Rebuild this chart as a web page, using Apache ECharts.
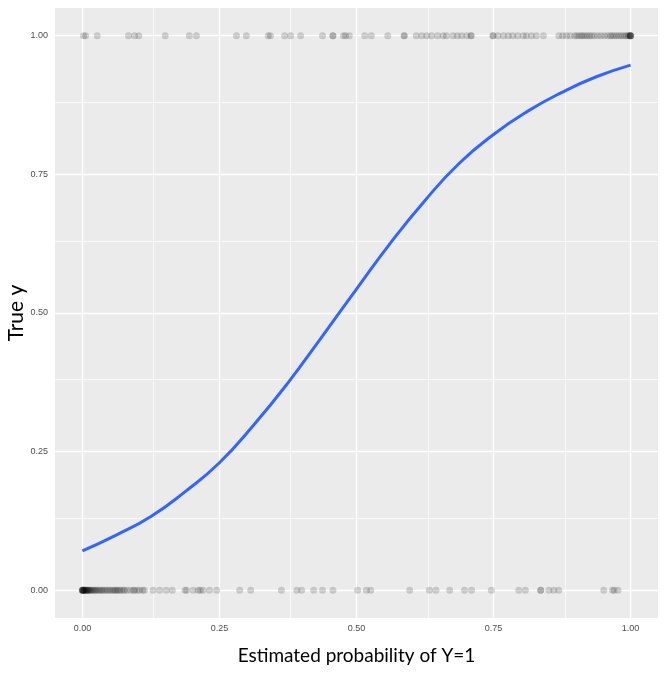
<!DOCTYPE html>
<html>
<head>
<meta charset="utf-8">
<script src="https://cdn.jsdelivr.net/npm/echarts@6/dist/echarts.min.js"></script>
<style>
  html, body { margin: 0; padding: 0; background: #fff; }
  #chart { width: 664px; height: 678px; }
</style>
</head>
<body>
<div id="chart"></div>
<script>
  // estimated probabilities of observations with true y = 1
  var probY1 = [0.002, 0.006, 0.027, 0.084, 0.095, 0.103, 0.151, 0.195, 0.208, 0.281, 0.299,
    0.339, 0.343, 0.369, 0.380, 0.398, 0.438, 0.457, 0.457, 0.476, 0.480, 0.487, 0.515, 0.527,
    0.557, 0.587, 0.587, 0.609, 0.619, 0.628, 0.637, 0.648, 0.658, 0.664, 0.676, 0.684, 0.692,
    0.701, 0.709, 0.709, 0.749, 0.749, 0.758, 0.768, 0.777, 0.785, 0.794, 0.804, 0.810, 0.819,
    0.828, 0.841, 0.869, 0.876, 0.883, 0.890, 0.898, 0.902, 0.906, 0.910, 0.913, 0.917, 0.921,
    0.925, 0.929, 0.934, 0.940, 0.946, 0.952, 0.958, 0.963, 0.966, 0.970, 0.974, 0.978, 0.982,
    0.986, 0.990, 0.993, 0.996, 0.998, 0.999, 1.0, 1.0, 1.0, 1.0];

  // estimated probabilities of observations with true y = 0
  var probY0 = [0, 0, 0, 0, 0.001, 0.001, 0.002, 0.002, 0.003, 0.004, 0.005, 0.006, 0.007, 0.008,
    0.009, 0.010, 0.011, 0.012, 0.014, 0.015, 0.017, 0.019, 0.021, 0.023, 0.025, 0.027, 0.030,
    0.032, 0.035, 0.037, 0.040, 0.043, 0.046, 0.049, 0.052, 0.055, 0.058, 0.060, 0.063, 0.065,
    0.068, 0.071, 0.075, 0.077, 0.082, 0.088, 0.093, 0.095, 0.100, 0.104, 0.110, 0.113, 0.129,
    0.141, 0.153, 0.164, 0.187, 0.190, 0.202, 0.211, 0.215, 0.220, 0.232, 0.245, 0.287, 0.307,
    0.363, 0.391, 0.400, 0.422, 0.438, 0.457, 0.502, 0.518, 0.526, 0.597, 0.633, 0.645, 0.670,
    0.697, 0.710, 0.746, 0.796, 0.808, 0.836, 0.836, 0.851, 0.860, 0.869, 0.951, 0.967, 0.970,
    0.977];

  // fitted logistic curve
  var curveX = [0, 0.0625, 0.125, 0.1875, 0.25, 0.3125, 0.375, 0.4375, 0.5, 0.5625, 0.625,
    0.6875, 0.75, 0.8125, 0.875, 0.9375, 1.0];
  var curveY = [0.071, 0.100, 0.133, 0.178, 0.230, 0.298, 0.374, 0.458, 0.543, 0.627, 0.703,
    0.770, 0.822, 0.864, 0.898, 0.926, 0.947];

  var majorTicks = [0, 0.25, 0.5, 0.75, 1];
  var minorTicks = [0.125, 0.375, 0.625, 0.875];

  var chart = echarts.init(document.getElementById("chart"));

  var gridLines = function (vals, width) {
    var out = [];
    vals.forEach(function (v) {
      out.push({ xAxis: v, lineStyle: { width: width } });
      out.push({ yAxis: v, lineStyle: { width: width } });
    });
    return out;
  };

  var axisCommon = {
    type: "value",
    min: -0.05,
    max: 1.05,
    nameLocation: "middle",
    nameTextStyle: { fontFamily: "Lato", fontSize: 19, color: "#000" },
    axisLine: { show: false },
    axisTick: { show: true, customValues: majorTicks, length: 4, lineStyle: { color: "#333", width: 1 } },
    axisLabel: {
      customValues: majorTicks,
      fontFamily: "Liberation Sans",
      fontSize: 9,
      color: "#4D4D4D",
      formatter: function (v) { return v.toFixed(2); },
    },
    splitLine: { show: false },
  };

  chart.setOption({
    animation: false,
    grid: {
      left: 55,
      right: 6,
      top: 8,
      bottom: 60,
      outerBoundsMode: "none",
      containLabel: false,
      show: true,
      backgroundColor: "#EBEBEB",
      borderWidth: 0,
    },
    xAxis: Object.assign({}, axisCommon, {
      name: "Estimated probability of Y=1",
      nameGap: 28,
      axisLabel: Object.assign({}, axisCommon.axisLabel, { margin: 6 }),
    }),
    yAxis: Object.assign({}, axisCommon, {
      name: "True y",
      nameGap: 28,
      nameMoveOverlap: false,
      nameTextStyle: Object.assign({}, axisCommon.nameTextStyle, { fontSize: 21 }),
      axisLabel: Object.assign({}, axisCommon.axisLabel, { margin: 7 }),
    }),
    series: [
      {
        type: "scatter",
        data: [],
        z: 1,
        silent: true,
        markLine: {
          silent: true,
          z: 1,
          symbol: "none",
          label: { show: false },
          animation: false,
          lineStyle: { color: "#FFFFFF", type: "solid" },
          data: gridLines(majorTicks, 1.4).concat(gridLines(minorTicks, 0.7)),
        },
      },
      {
        type: "scatter",
        z: 3,
        symbolSize: 7,
        itemStyle: { color: "rgba(0,0,0,0.2)" },
        data: probY1.map(function (p) { return [p, 1]; }),
      },
      {
        type: "scatter",
        z: 3,
        symbolSize: 7,
        itemStyle: { color: "rgba(0,0,0,0.2)" },
        data: probY0.map(function (p) { return [p, 0]; }),
      },
      {
        type: "line",
        z: 4,
        smooth: true,
        showSymbol: false,
        lineStyle: { color: "#3366FF", width: 3 },
        data: curveX.map(function (x, i) { return [x, curveY[i]]; }),
      },
    ],
  });
</script>
</body>
</html>
